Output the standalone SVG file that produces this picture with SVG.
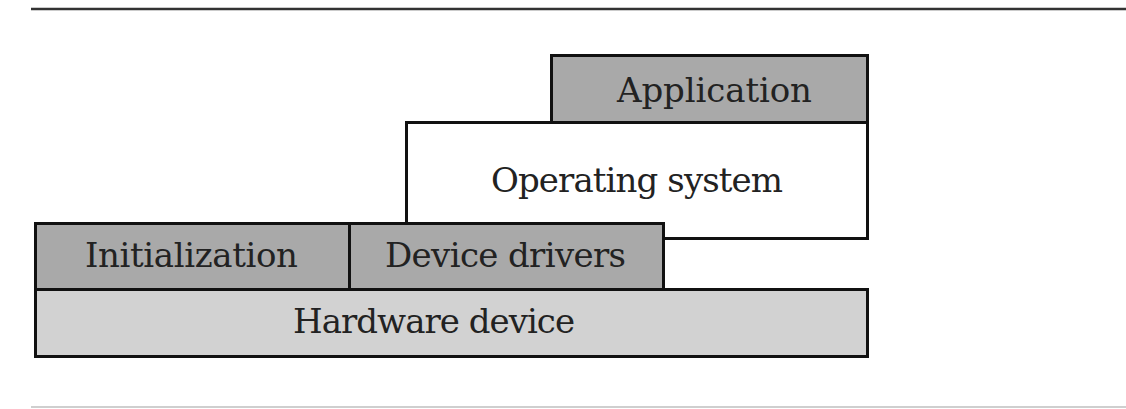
<svg xmlns="http://www.w3.org/2000/svg" width="1126" height="409" viewBox="0 0 1126 409">
  <style>
    .layer { stroke: #111; stroke-width: 3; }
    .dark { fill: #a9a9a9; }
    .light { fill: #d2d2d2; }
    .white { fill: #ffffff; }
    .label { font-size: 34px; fill: #222; }
  </style>
  <rect width="1126" height="409" fill="#ffffff"/>
  <!-- frame rules -->
  <line x1="31" y1="9" x2="1126" y2="9" stroke="#333" stroke-width="2.5"/>
  <line x1="31" y1="407" x2="1126" y2="407" stroke="#cfcfcf" stroke-width="2"/>

  <g font-family="DejaVu Serif, serif">
    <g id="operating-system">
      <rect class="layer white" x="406.5" y="122.5" width="461" height="116"/>
      <text class="label" x="491" y="192" textLength="292" lengthAdjust="spacing">Operating system</text>
    </g>
    <g id="application">
      <rect class="layer dark" x="551.5" y="55.5" width="316" height="67"/>
      <text class="label" x="617" y="102" textLength="195" lengthAdjust="spacing">Application</text>
    </g>
    <g id="hardware-device">
      <rect class="layer light" x="35.5" y="289.5" width="832" height="67"/>
      <text class="label" x="293" y="333" textLength="282" lengthAdjust="spacing">Hardware device</text>
    </g>
    <g id="initialization">
      <rect class="layer dark" x="35.5" y="223.5" width="314" height="66"/>
      <text class="label" x="85" y="267" textLength="213" lengthAdjust="spacing">Initialization</text>
    </g>
    <g id="device-drivers">
      <rect class="layer dark" x="349.5" y="223.5" width="314" height="66"/>
      <text class="label" x="385" y="267" textLength="241" lengthAdjust="spacing">Device drivers</text>
    </g>
  </g>
  <g id="connectors"></g>
</svg>
